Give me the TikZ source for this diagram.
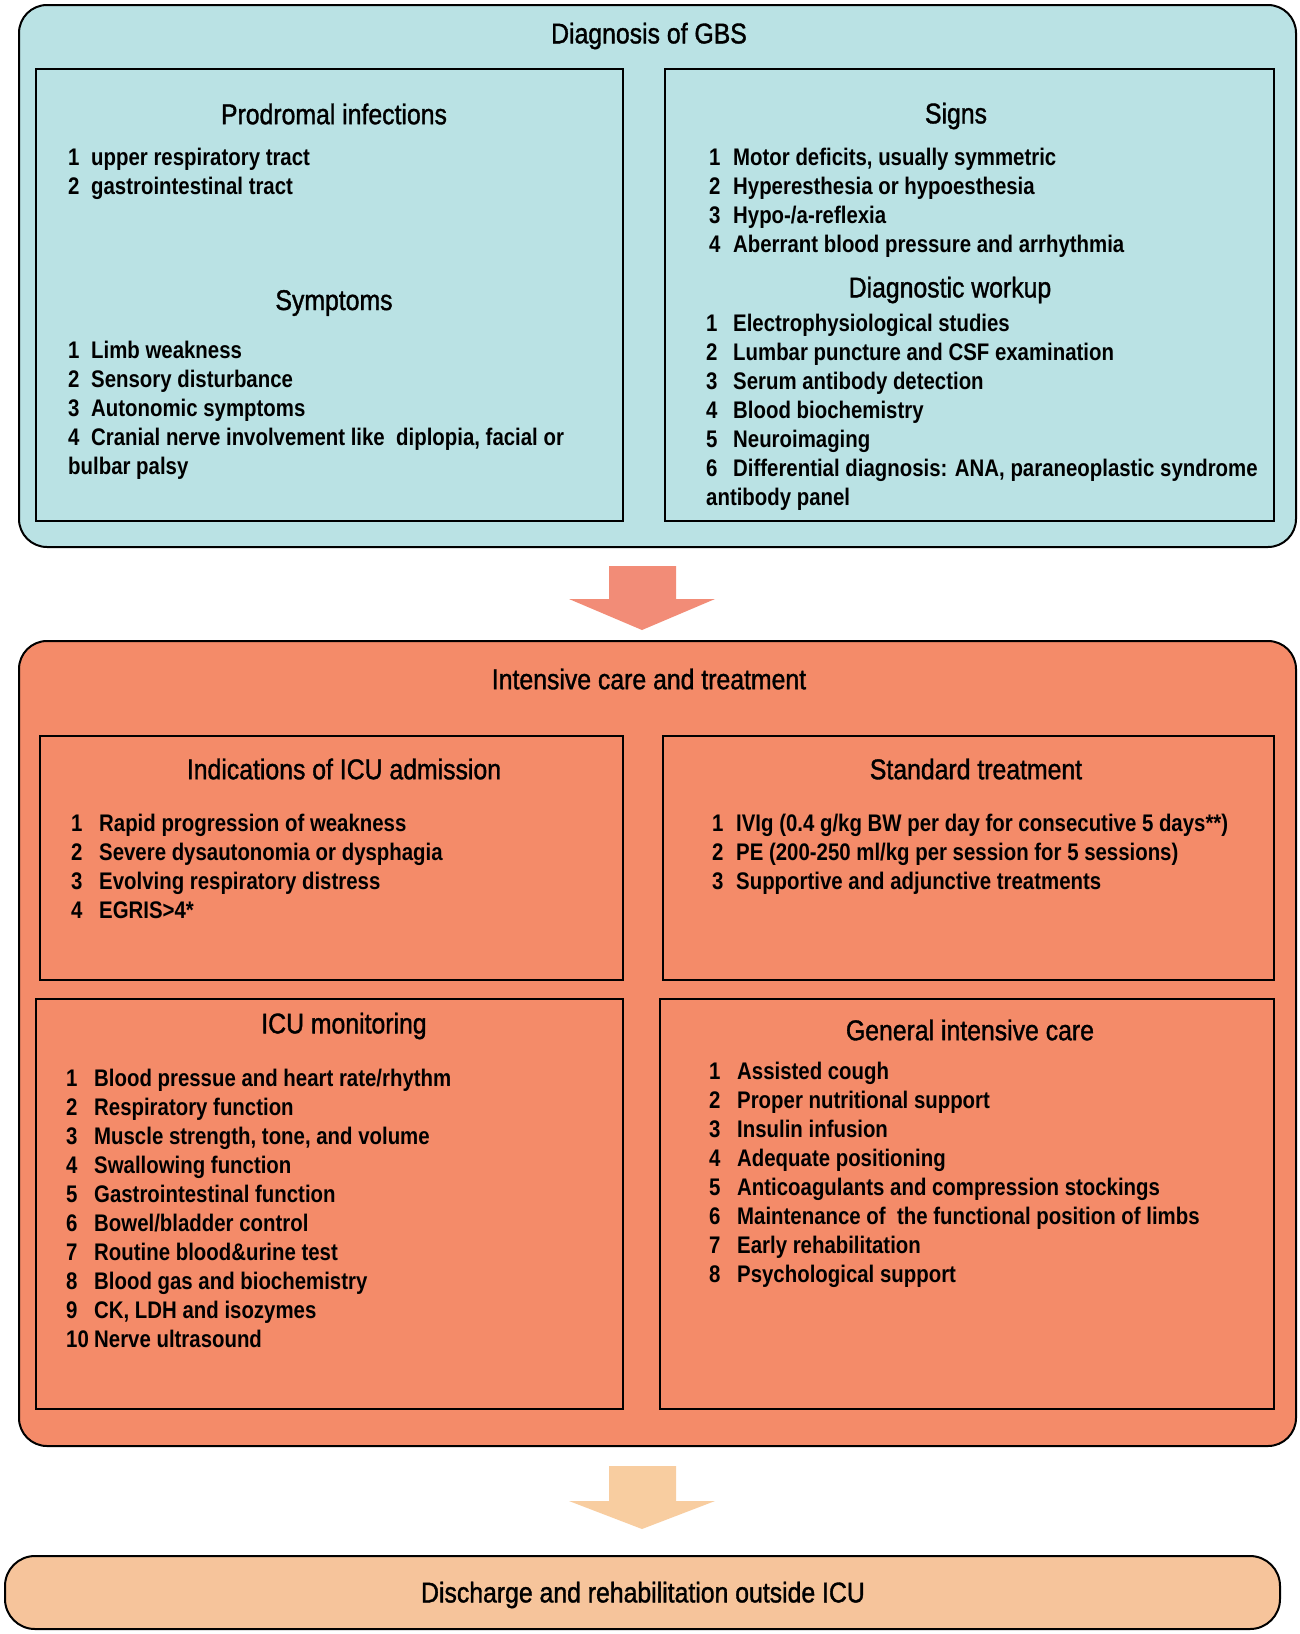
\documentclass[tikz,border=0pt]{standalone}
\usepackage{fontspec}
\setmainfont[FakeStretch=0.85]{Liberation Sans}
\newfontfamily\hdfont[FakeStretch=0.87, FakeBold=1.3]{Liberation Sans}
\definecolor{topc}{HTML}{BAE2E4}
\definecolor{midc}{HTML}{F48B69}
\definecolor{arrA}{HTML}{F28C77}
\definecolor{botc}{HTML}{F6C49B}
\definecolor{arrB}{HTML}{F8CDA0}
\newcommand\nb[2]{\makebox[#1pt][l]{#2}}
\begin{document}
\begin{tikzpicture}[x=1pt,y=-1pt]
\tikzset{
 outerbox/.style={draw=black, line width=2pt, rounded corners=28pt, anchor=north west, inner sep=0, outer sep=0},
 inbox/.style={draw=black, line width=2pt, anchor=north west, inner sep=0, outer sep=0},
 head/.style={font=\hdfont\fontsize{28.5}{34}\selectfont, inner sep=0},
 lst/.style={font=\fontsize{24}{29}\selectfont\bfseries, anchor=north west, align=left, inner sep=0},
}
\useasboundingbox (0,0) rectangle (1300,1634);
\fill[white] (0,0) rectangle (1300,1634);

% ---------- Diagnosis ----------
\node[outerbox, fill=topc, minimum width=1277pt, minimum height=542pt] (diag) at (19,5) {};
\node[head] (diagT) at (649,36) {Diagnosis of GBS};
\node[inbox, minimum width=587pt, minimum height=452pt] (left1) at (36,69) {};
\node[inbox, minimum width=609pt, minimum height=452pt] (right1) at (665,69) {};

\node[head] (prodT) at (334,114) {Prodromal infections};
\node[lst] (prodL) at (68,148) {\nb{23}{1}upper respiratory tract\\ \nb{23}{2}gastrointestinal tract};
\node[head] (sympT) at (334,303) {Symptoms};
\node[lst] (sympL) at (68,341) {\nb{23}{1}Limb weakness\\ \nb{23}{2}Sensory disturbance\\ \nb{23}{3}Autonomic symptoms\\ \nb{23}{4}Cranial nerve involvement like\ \ diplopia, facial or\\ bulbar palsy};

\node[head] (signT) at (956,116) {Signs};
\node[lst] (signL) at (709,148) {\nb{24}{1}Motor deficits, usually symmetric\\ \nb{24}{2}Hyperesthesia or hypoesthesia\\ \nb{24}{3}Hypo-/a-reflexia\\ \nb{24}{4}Aberrant blood pressure and arrhythmia};
\node[head] (workT) at (950,290) {Diagnostic workup};
\node[lst] (workL) at (706,314) {\nb{27}{1}Electrophysiological studies\\ \nb{27}{2}Lumbar puncture and CSF examination\\ \nb{27}{3}Serum antibody detection\\ \nb{27}{4}Blood biochemistry\\ \nb{27}{5}Neuroimaging\\ \nb{27}{6}Differential diagnosis: ANA, paraneoplastic syndrome\\ antibody panel};

% ---------- Arrow 1 ----------
\fill[arrA] (609,566) -- (676,566) -- (676,599) -- (715,599) -- (642,630) -- (569,599) -- (609,599) -- cycle;

% ---------- Intensive care ----------
\node[outerbox, fill=midc, minimum width=1277pt, minimum height=805pt] (icu) at (19,641) {};
\node[head] (icuT) at (649,679) {Intensive care and treatment};
\node[inbox, minimum width=583pt, minimum height=244pt] (indB) at (40,736) {};
\node[inbox, minimum width=611pt, minimum height=244pt] (stdB) at (663,736) {};
\node[inbox, minimum width=587pt, minimum height=410pt] (monB) at (36,999) {};
\node[inbox, minimum width=614pt, minimum height=410pt] (genB) at (660,999) {};

\node[head] (indT) at (344,769) {Indications of ICU admission};
\node[lst] (indL) at (71,814) {\nb{28}{1}Rapid progression of weakness\\ \nb{28}{2}Severe dysautonomia or dysphagia\\ \nb{28}{3}Evolving respiratory distress\\ \nb{28}{4}EGRIS>4*};

\node[head] (stdT) at (976,769) {Standard treatment};
\node[lst] (stdL) at (712,814) {\nb{24}{1}IVIg (0.4 g/kg BW per day for consecutive 5 days**)\\ \nb{24}{2}PE (200-250 ml/kg per session for 5 sessions)\\ \nb{24}{3}Supportive and adjunctive treatments};

\node[head] (monT) at (344,1026) {ICU monitoring};
\node[lst] (monL) at (66,1069) {\nb{28}{1}Blood pressue and heart rate/rhythm\\ \nb{28}{2}Respiratory function\\ \nb{28}{3}Muscle strength, tone, and volume\\ \nb{28}{4}Swallowing function\\ \nb{28}{5}Gastrointestinal function\\ \nb{28}{6}Bowel/bladder control\\ \nb{28}{7}Routine blood\&urine test\\ \nb{28}{8}Blood gas and biochemistry\\ \nb{28}{9}CK, LDH and isozymes\\ \nb{28}{10}Nerve ultrasound};

\node[head] (genT) at (970,1030) {General intensive care};
\node[lst] (genL) at (709,1062) {\nb{28}{1}Assisted cough\\ \nb{28}{2}Proper nutritional support\\ \nb{28}{3}Insulin infusion\\ \nb{28}{4}Adequate positioning\\ \nb{28}{5}Anticoagulants and compression stockings\\ \nb{28}{6}Maintenance of\ \ the functional position of limbs\\ \nb{28}{7}Early rehabilitation\\ \nb{28}{8}Psychological support};

% ---------- Arrow 2 ----------
\fill[arrB] (609,1466) -- (676,1466) -- (676,1501) -- (715,1501) -- (642,1529) -- (569,1501) -- (609,1501) -- cycle;

% ---------- Discharge ----------
\node[outerbox, fill=botc, minimum width=1275pt, minimum height=73pt, rounded corners=30pt] (disc) at (5,1556) {};
\node[head] (discT) at (643,1595) {Discharge and rehabilitation outside ICU};
\end{tikzpicture}
\end{document}
